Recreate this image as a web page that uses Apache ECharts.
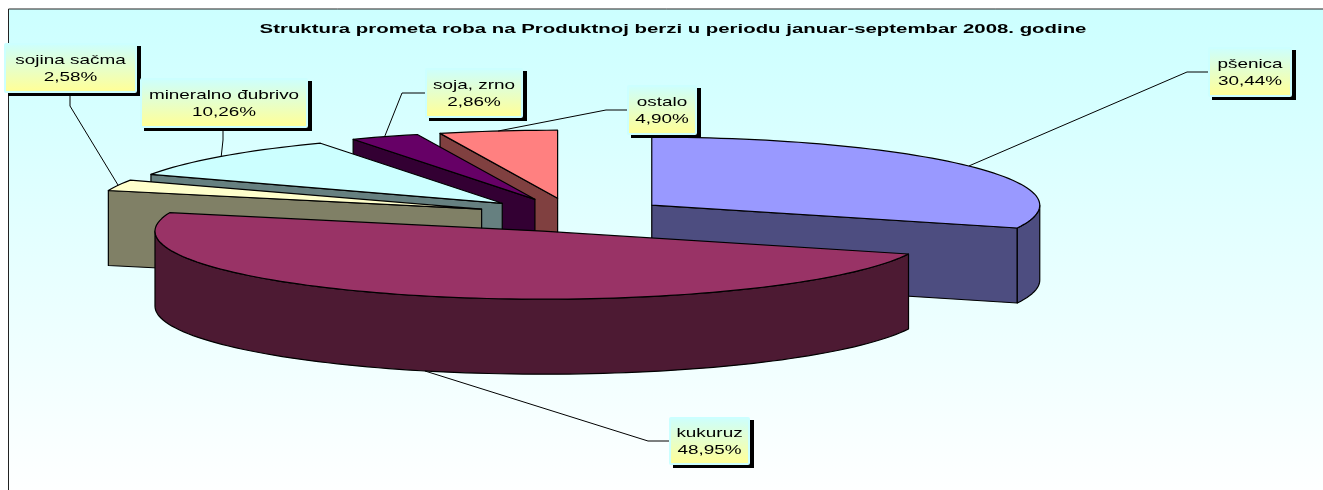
<!DOCTYPE html>
<html>
<head>
<meta charset="utf-8">
<style>
  html, body { margin: 0; padding: 0; background: #fff; }
  #chart { width: 1323px; height: 490px; }
</style>
</head>
<body>
<div id="chart"></div>
<script src="https://cdn.jsdelivr.net/npm/echarts@6/dist/echarts.min.js"></script>
<script>
const chartTitle = "Struktura prometa roba na Produktnoj berzi u periodu januar-septembar 2008. godine"
const categories = ["pšenica", "kukuruz", "sojina sačma", "mineralno đubrivo", "soja, zrno", "ostalo"]
const shares = [30.44, 48.95, 2.58, 10.26, 2.86, 4.90]

const topColors = ["#9999FF", "#993366", "#FFFFCC", "#CCFFFF", "#660066", "#FF8080"]
const sideColors = ["#4D4D80", "#4D1A33", "#808066", "#668080", "#330033", "#804040"]
// back to front, later ones cover the earlier ones
const paintOrder = [5, 4, 3, 2, 0, 1]

// pie projection
const cx = 572.5
const cy = 215
const rx = 388
const ry = 68
const depth = 75
const explode = 0.25

// callout boxes [x, y, w, h], and the bend of each leader line
const boxes = [[1208, 47, 84, 50], [669, 417, 81, 48], [4, 43, 133, 50], [140, 78, 168, 50], [425, 68, 98, 50], [627, 85, 70, 50]]
const bends = [[1187, 72, 1208], [648, 441, 669], [70, 106, 70], [223, 140, 223], [402, 93, 425], [606, 110, 627]]
const textScale = 1.4

const total = shares.reduce((a, b) => a + b, 0)
const rad = (share) => share / total * Math.PI * 2
const starts = shares.map((_, i) => rad(shares.slice(0, i).reduce((a, b) => a + b, 0)))

function rimPoint(center, a) {
  return [center[0] + rx * Math.sin(a), center[1] - ry * Math.cos(a)]
}

function down(p) {
  return [p[0], p[1] + depth]
}

function arc(center, from, to) {
  const pts = []
  const n = Math.max(2, Math.ceil((to - from) / 0.03))
  for (let i = 0; i <= n; i++) {
    pts.push(rimPoint(center, from + (to - from) * i / n))
  }
  return pts
}

function renderSlice(params) {
  const i = params.dataIndex
  const a0 = starts[i]
  const a1 = a0 + rad(shares[i])
  const mid = (a0 + a1) / 2
  const center = [cx + rx * explode * Math.sin(mid), cy - ry * explode * Math.cos(mid)]
  const z = paintOrder.indexOf(i) * 4
  const edge = { stroke: "#000", lineWidth: 1.2, lineJoin: "round" }
  const children = []

  // outer wall, only the front half can be seen
  const w0 = Math.max(a0, Math.PI / 2)
  const w1 = Math.min(a1, Math.PI * 1.5)
  if (w1 > w0) {
    const wall = arc(center, w0, w1)
    children.push({
      type: "polygon",
      z2: z + 1,
      shape: { points: wall.concat(wall.map(down).reverse()) },
      style: { fill: sideColors[i], ...edge },
    })
  }
  // cut faces
  const faces = []
  if (Math.sin(a0) < -0.001) faces.push(a0)
  if (Math.sin(a1) > 0.001) faces.push(a1)
  faces.forEach((a) => {
    const p = rimPoint(center, a)
    children.push({
      type: "polygon",
      z2: z,
      shape: { points: [center, p, down(p), down(center)] },
      style: { fill: sideColors[i], ...edge },
    })
  })
  // top face
  children.push({
    type: "polygon",
    z2: z + 2,
    shape: { points: [center].concat(arc(center, a0, a1)) },
    style: { fill: topColors[i], ...edge },
  })

  // leader line, kukuruz leaves from the bottom of its wall
  let from = rimPoint(center, mid)
  if (Math.cos(mid) < -0.5) from = down(from)
  const b = bends[i]
  const box = boxes[i]
  const endY = b[2] === b[0] ? box[1] + box[3] : b[1]
  children.push({
    type: "polyline",
    z2: 40,
    shape: { points: [from, [b[0], b[1]], [b[2], endY]] },
    style: { fill: "none", stroke: "#000", lineWidth: 1 },
  })

  // callout
  children.push({
    type: "rect",
    z2: 41,
    shape: { x: box[0] + 4, y: box[1] + 3, width: box[2], height: box[3] },
    style: { fill: "#000" },
  })
  children.push({
    type: "rect",
    z2: 42,
    shape: { x: box[0] + 1, y: box[1] + 1, width: box[2] - 2, height: box[3] - 2, r: 1 },
    style: {
      fill: new echarts.graphic.LinearGradient(0, 0, 0, 1, [
        { offset: 0, color: "#CCFFFF" },
        { offset: 0.95, color: "#FFFF99" },
        { offset: 1, color: "#FFFF99" },
      ]),
      stroke: "#CCFFFF",
      lineWidth: 2,
    },
  })
  const lines = [categories[i], shares[i].toFixed(2).replace(".", ",") + "%"]
  lines.forEach((line, k) => {
    children.push({
      type: "text",
      z2: 43,
      x: box[0] + box[2] / 2,
      y: box[1] + box[3] / 2 - 7.5 + k * 17,
      scaleX: textScale,
      style: {
        text: line,
        x: 0,
        y: 0,
        align: "center",
        verticalAlign: "middle",
        fill: "#000",
        font: "13.5px 'Liberation Sans', Arial, sans-serif",
      },
    })
  })
  return { type: "group", children: children }
}

const chart = echarts.init(document.getElementById("chart"), null, { renderer: "canvas" })
chart.setOption({
  animation: false,
  backgroundColor: "#fff",
  graphic: [
    {
      type: "rect",
      z: -1,
      shape: { x: 8.5, y: 9, width: 1320, height: 490 },
      style: {
        fill: new echarts.graphic.LinearGradient(0, 0, 0, 1, [
          { offset: 0, color: "#CCFFFF" },
          { offset: 1, color: "#FFFFFF" },
        ]),
        stroke: "#222",
        lineWidth: 1,
      },
    },
    {
      type: "text",
      z: 10,
      x: 673,
      y: 29,
      scaleX: 1.51,
      style: {
        text: chartTitle,
        x: 0,
        y: 0,
        align: "center",
        verticalAlign: "middle",
        fill: "#000",
        font: "bold 13.5px 'Liberation Sans', Arial, sans-serif",
      },
    },
  ],
  series: [
    {
      type: "custom",
      coordinateSystem: "none",
      silent: true,
      clip: false,
      data: shares.map((v, i) => ({ name: categories[i], value: v })),
      renderItem: renderSlice,
    },
  ],
})
</script>
</body>
</html>
